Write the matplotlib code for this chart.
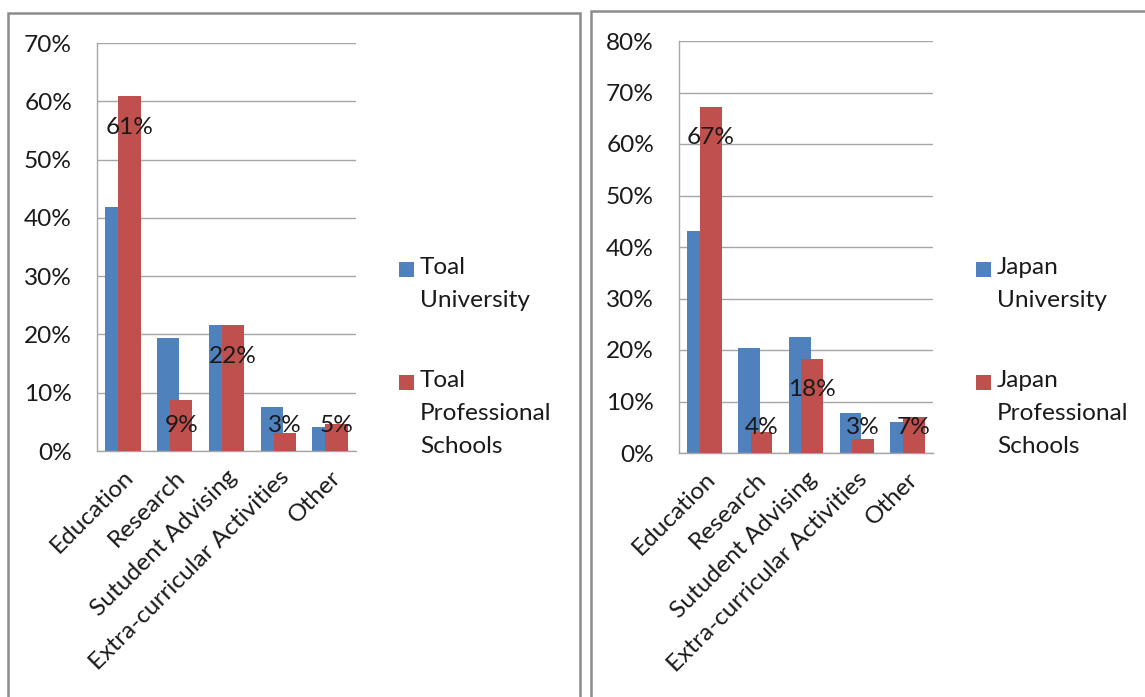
import matplotlib.pyplot as plt
from matplotlib.patches import Rectangle
from matplotlib.ticker import PercentFormatter

plt.rcParams['font.family'] = ['Lato', 'DejaVu Sans']

categories = ["Education", "Research", "Sutudent Advising", "Extra-curricular Activities", "Other"]

toal_university = [0.419, 0.194, 0.216, 0.075, 0.042]
toal_professional = [0.609, 0.088, 0.216, 0.031, 0.046]

japan_university = [0.432, 0.203, 0.225, 0.078, 0.060]
japan_professional = [0.672, 0.040, 0.183, 0.028, 0.070]

left_series = ["Toal\nUniversity", "Toal\nProfessional\nSchools"]
right_series = ["Japan\nUniversity", "Japan\nProfessional\nSchools"]

BLUE = '#4F81BD'
RED = '#C0504D'
GRID = '#A6A6A6'
TXT = '#1a1a1a'
FS = 17.6

W, H = 1145, 697
fig = plt.figure(figsize=(W/100, H/100), dpi=100)

def px(x, y, w, h):
	# pixel box (top-left origin) -> figure fraction
	return [x/W, 1 - (y + h)/H, w/W, h/H]

# panel frames
for x0, y0, x1 in [(8, 13, 580), (591, 11, 1160)]:
	fig.patches.append(Rectangle((x0/W, -0.05), (x1 - x0)/W, 1.05 - y0/H,
		transform=fig.transFigure, fill=False, edgecolor='#8C8C8C', linewidth=1.8))

def draw_panel(rect, blue_vals, red_vals, ymax, names, leg_x):
	ax = fig.add_axes(px(*rect))
	xs = range(len(categories))
	width = 0.43
	ax.bar([x - 0.125 for x in xs], blue_vals, width, color=BLUE, zorder=2)
	ax.bar([x + 0.125 for x in xs], red_vals, width, color=RED, zorder=3)

	ax.set_xlim(-0.5, len(categories) - 0.5)
	ax.set_ylim(0, ymax)
	ax.set_yticks([i/10 for i in range(int(round(ymax*10)) + 1)])
	ax.yaxis.set_major_formatter(PercentFormatter(1.0, decimals=0))
	ax.grid(axis='y', color=GRID, linewidth=1.0, zorder=0)
	ax.set_axisbelow(True)
	for s in ['top', 'right']:
		ax.spines[s].set_visible(False)
	for s in ['left', 'bottom']:
		ax.spines[s].set_color(GRID)
		ax.spines[s].set_linewidth(1.0)
	ax.tick_params(axis='y', length=0, pad=18, labelsize=FS, labelcolor=TXT)
	ax.tick_params(axis='x', length=0, pad=11, labelcolor=TXT)
	ax.set_xticks(list(xs))
	ax.set_xticklabels(categories, rotation=45, ha='right', va='top',
		rotation_mode='anchor', fontsize=FS)

	# data labels on the red series, "inside end" like Excel
	ppu = rect[3] / ymax
	for x, v in zip(xs, red_vals):
		y = max(v - 31/ppu, 25/ppu)
		ax.text(x + 0.125, y, f"{round(v*100)}%", ha='center', va='center',
			fontsize=FS, color=TXT, zorder=4)

	# legend
	for i, (name, col) in enumerate(zip(names, [BLUE, RED])):
		top = 262 + i*113
		fig.patches.append(Rectangle((leg_x/W, 1 - (top + 15)/H), 15/W, 15/H,
			transform=fig.transFigure, facecolor=col, edgecolor='none'))
		fig.text((leg_x + 21)/W, 1 - (top - 5)/H, name, ha='left', va='top',
			fontsize=FS, color=TXT, linespacing=1.7)
	return ax

draw_panel((97, 43, 259, 408), toal_university, toal_professional, 0.7, left_series, 399)
draw_panel((679, 41, 254, 412), japan_university, japan_professional, 0.8, right_series, 976)

fig.savefig("out.png", dpi=100)
